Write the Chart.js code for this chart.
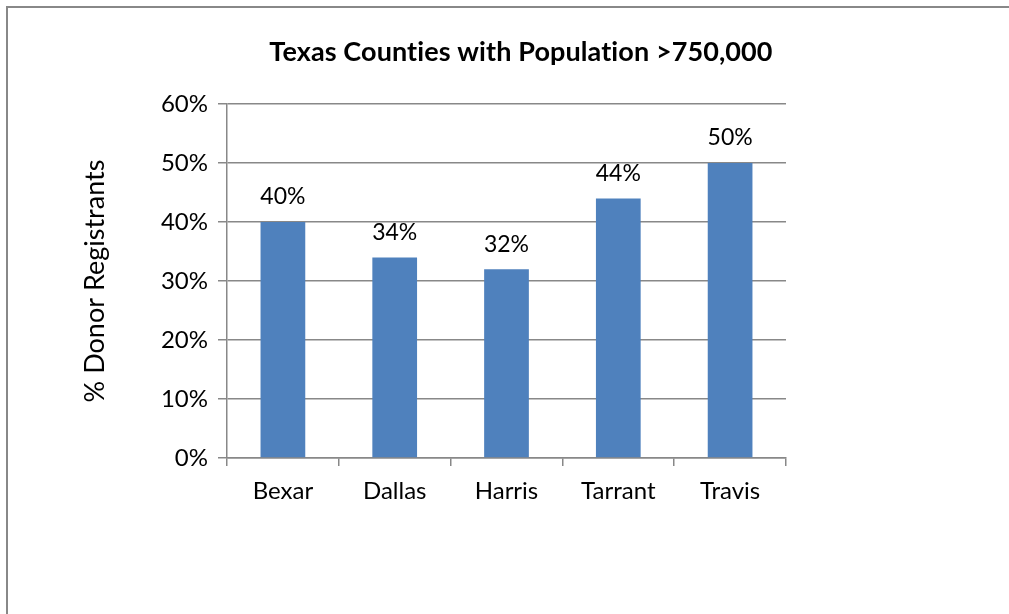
<!DOCTYPE html>
<html>
<head>
<meta charset="utf-8">
<script src="https://cdn.jsdelivr.net/npm/chart.js@4"></script>
<style>
  html, body { margin: 0; padding: 0; background: #fff; }
  #wrap { width: 1009px; height: 614px; position: relative; }
</style>
</head>
<body>
<div id="wrap"><canvas id="chart" width="1009" height="614"></canvas></div>
<script>
const counties = ['Bexar', 'Dallas', 'Harris', 'Tarrant', 'Travis']
const donorPct = [40, 34, 32, 44, 50]
const yTicks = [0, 10, 20, 30, 40, 50, 60]
const chartTitle = 'Texas Counties with Population >750,000'
const yTitle = '% Donor Registrants'

const FONT = 'Lato, "Open Sans", sans-serif'
const GRAY = '#888888'

// frame, title and value labels
const extras = {
  id: 'extras',
  beforeDraw(chart) {
    const ctx = chart.ctx
    ctx.save()
    ctx.strokeStyle = GRAY
    ctx.lineWidth = 2
    ctx.beginPath()
    ctx.moveTo(7, 614)
    ctx.lineTo(7, 7)
    ctx.lineTo(1009, 7)
    ctx.stroke()
    ctx.restore()
  },
  afterDatasetsDraw(chart) {
    const ctx = chart.ctx
    ctx.save()
    ctx.fillStyle = '#000'
    ctx.textAlign = 'center'
    ctx.textBaseline = 'middle'
    ctx.letterSpacing = '0.1px' // stops the "ti" ligature
    ctx.font = 'bold 27px ' + FONT
    ctx.fillText(chartTitle, 521, 52)
    ctx.letterSpacing = '0px'
    ctx.font = '23px ' + FONT
    chart.getDatasetMeta(0).data.forEach((bar, i) => {
      ctx.fillText(donorPct[i] + '%', bar.x, bar.y - 25)
    })
    ctx.restore()
  }
}

new Chart(document.getElementById('chart'), {
  type: 'bar',
  data: {
    labels: counties,
    datasets: [{
      data: donorPct,
      backgroundColor: '#4F81BD',
      borderWidth: 0,
      categoryPercentage: 1,
      barPercentage: 0.4
    }]
  },
  options: {
    responsive: false,
    animation: false,
    layout: { padding: { top: 104, right: 223, left: 0, bottom: 0 } },
    plugins: {
      legend: { display: false },
      tooltip: { enabled: false },
      title: { display: false }
    },
    scales: {
      x: {
        afterFit(scale) { scale.height = 156 },
        grid: { offset: true, drawOnChartArea: false, drawTicks: true, tickLength: 8, color: GRAY, lineWidth: 1.5 },
        border: { display: true, color: GRAY, width: 1.5 },
        ticks: { color: '#000', padding: 11, font: { family: FONT, size: 24 } }
      },
      y: {
        min: 0,
        max: 60,
        afterFit(scale) { scale.width = 227 },
        afterBuildTicks(scale) { scale.ticks = yTicks.map(v => ({ value: v })) },
        grid: { color: GRAY, tickLength: 9, lineWidth: 1.5 },
        border: { display: true, color: GRAY, width: 1.5 },
        ticks: {
          color: '#000',
          padding: 10,
          font: { family: FONT, size: 24 },
          callback: v => v + '%'
        },
        title: {
          display: true,
          text: yTitle,
          color: '#000',
          font: { family: FONT, size: 27 },
          padding: { top: 79, bottom: 0 }
        }
      }
    }
  },
  plugins: [extras]
})
</script>
</body>
</html>
